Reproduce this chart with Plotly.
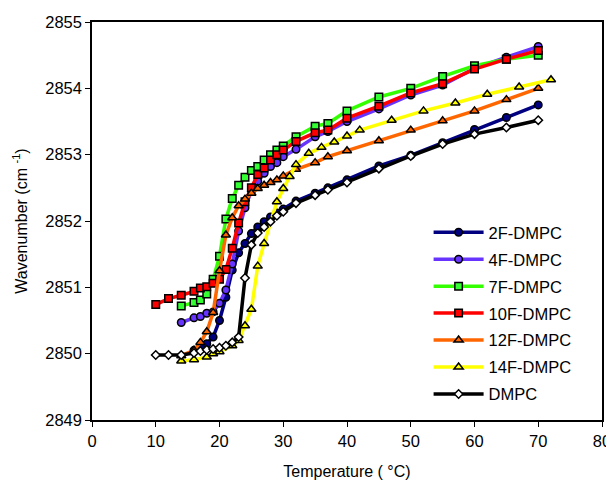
import plotly.graph_objects as go

# temperatures (deg C) and wavenumbers (cm-1) per sample
t_2f = [16, 17, 18, 19, 20, 21, 22, 23, 24, 25, 26, 27, 28, 29, 30, 32, 35, 37, 40, 45, 50, 55, 60, 65, 70]
w_2f = [2850.05, 2850.1, 2850.15, 2850.25, 2850.5, 2850.85, 2851.26, 2851.52, 2851.66, 2851.81, 2851.91,
        2851.99, 2852.06, 2852.12, 2852.18, 2852.3, 2852.42, 2852.5, 2852.62, 2852.83, 2852.99, 2853.18,
        2853.38, 2853.56, 2853.75]

t_4f = [14, 16, 17, 18, 19, 20, 21, 22, 23, 24, 25, 26, 27, 28, 29, 30, 32, 35, 37, 40, 45, 50, 55, 60, 65, 70]
w_4f = [2850.47, 2850.54, 2850.56, 2850.61, 2850.63, 2850.76, 2850.96, 2851.35, 2851.85, 2852.2, 2852.45,
        2852.6, 2852.72, 2852.82, 2852.88, 2852.97, 2853.08, 2853.27, 2853.35, 2853.5, 2853.69, 2853.9,
        2854.05, 2854.3, 2854.47, 2854.63]

t_7f = [14, 16, 17, 18, 19, 20, 21, 22, 23, 24, 25, 26, 27, 28, 29, 30, 32, 35, 37, 40, 45, 50, 55, 60, 65, 70]
w_7f = [2850.72, 2850.77, 2850.81, 2850.9, 2851.12, 2851.47, 2852.03, 2852.34, 2852.54, 2852.66, 2852.76,
        2852.82, 2852.92, 2853.0, 2853.07, 2853.13, 2853.27, 2853.43, 2853.47, 2853.66, 2853.87, 2854.0,
        2854.18, 2854.34, 2854.44, 2854.5]

t_10f = [10, 12, 14, 16, 17, 18, 19, 20, 21, 22, 23, 24, 25, 26, 27, 28, 29, 30, 32, 35, 37, 40, 45, 50, 55, 60, 65, 70]
w_10f = [2850.74, 2850.83, 2850.88, 2850.94, 2850.99, 2851.01, 2851.06, 2851.12, 2851.27, 2851.59, 2851.97,
         2852.29, 2852.5, 2852.7, 2852.8, 2852.92, 2853.0, 2853.07, 2853.2, 2853.33, 2853.37, 2853.55,
         2853.73, 2853.93, 2854.07, 2854.29, 2854.44, 2854.57]

t_12f = [14, 16, 17, 18, 19, 20, 21, 22, 23, 24, 25, 26, 27, 28, 29, 30, 32, 35, 37, 40, 45, 50, 55, 60, 65, 70]
w_12f = [2849.97, 2850.05, 2850.17, 2850.33, 2850.62, 2851.25, 2851.79, 2852.05, 2852.23, 2852.33, 2852.42,
         2852.49, 2852.54, 2852.58, 2852.62, 2852.68, 2852.78, 2852.88, 2852.97, 2853.06, 2853.21, 2853.37,
         2853.51, 2853.66, 2853.83, 2854.0]

t_14f = [14, 16, 18, 19, 20, 22, 23, 24, 25, 26, 27, 29, 30, 31, 32, 34, 36, 38, 40, 42, 47, 52, 57, 62, 67, 72]
w_14f = [2849.89, 2849.91, 2849.95, 2850.0, 2850.03, 2850.12, 2850.2, 2850.42, 2850.67, 2851.32, 2851.66,
         2852.29, 2852.49, 2852.67, 2852.85, 2853.02, 2853.11, 2853.19, 2853.28, 2853.37, 2853.52, 2853.66,
         2853.78, 2853.91, 2854.02, 2854.13]

t_dmpc = [10, 12, 14, 16, 17, 18, 19, 20, 21, 22, 23, 24, 25, 26, 27, 28, 29, 30, 32, 35, 37, 40, 45, 50, 55, 60, 65, 70]
w_dmpc = [2849.98, 2849.98, 2849.98, 2850.01, 2850.04, 2850.06, 2850.07, 2850.09, 2850.12, 2850.17, 2850.25,
          2851.14, 2851.64, 2851.82, 2851.91, 2851.99, 2852.08, 2852.14, 2852.27, 2852.39, 2852.47, 2852.58,
          2852.79, 2852.98, 2853.16, 2853.31, 2853.41, 2853.52]

series = [
    ("2F-DMPC", t_2f, w_2f, "#000080", "#000080", "circle", 7.5),
    ("4F-DMPC", t_4f, w_4f, "#6633FF", "#6633FF", "circle", 7.5),
    ("7F-DMPC", t_7f, w_7f, "#33FF00", "#33FF33", "square", 7.5),
    ("10F-DMPC", t_10f, w_10f, "#FF0000", "#FF0000", "square", 7.5),
    ("12F-DMPC", t_12f, w_12f, "#FF6600", "#FF6600", "triangle-up", 8),
    ("14F-DMPC", t_14f, w_14f, "#FFFF00", "#FFFF00", "triangle-up", 8),
    ("DMPC", t_dmpc, w_dmpc, "#000000", "#FFFFFF", "diamond", 6.5),
]

fig = go.Figure()
for name, t, w, line_col, fill_col, sym, size in series:
    fig.add_trace(go.Scatter(
        x=t, y=w, name=name, legendgroup=name, mode="lines+markers",
        line=dict(color=line_col, width=3.5),
        marker=dict(symbol=sym, size=size, color=fill_col, line=dict(color="#000000", width=1.5)),
    ))

# the page puts the figure 8px in from the top-left corner, so the size and margins allow for that
fig.update_layout(
    width=606, height=472,
    margin=dict(l=84, r=12, t=14, b=60),
    paper_bgcolor="white", plot_bgcolor="white",
    font=dict(family="Arial, Liberation Sans, sans-serif", size=14, color="#000000"),
    legend=dict(x=0.66, y=0.515, xanchor="left", yanchor="top", font=dict(size=16.5),
                bgcolor="rgba(255,255,255,0)", tracegroupgap=2.5, traceorder="grouped",
                itemwidth=50),
)
fig.update_xaxes(
    range=[0, 80], dtick=10, showgrid=False, zeroline=False, automargin=False,
    showline=True, linecolor="#000000", linewidth=1.5, mirror=True,
    ticks="outside", ticklen=5, tickcolor="#000000", tickfont=dict(size=16.5),
    title=dict(text="Temperature ( °C)", font=dict(size=16), standoff=18),
)
fig.update_yaxes(
    range=[2849, 2855], dtick=1, showgrid=False, zeroline=False, automargin=False,
    showline=True, linecolor="#000000", linewidth=1.5, mirror=True,
    ticks="outside", ticklen=5, tickcolor="#000000", tickfont=dict(size=16.5),
    title=dict(text="Wavenumber (cm <sup>-1</sup>)", font=dict(size=16), standoff=14),
)

fig.write_html("out.html")
